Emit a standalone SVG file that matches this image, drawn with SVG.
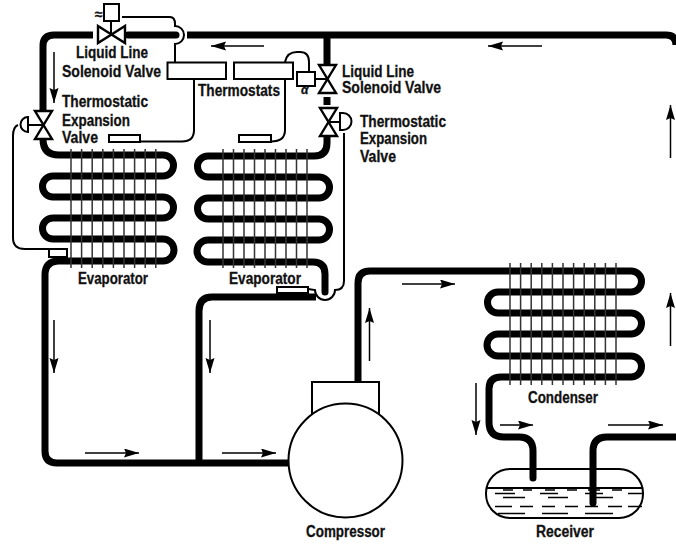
<svg xmlns="http://www.w3.org/2000/svg" width="676" height="544" viewBox="0 0 676 544">
<style>
.p{fill:none;stroke:#000;stroke-width:7}
.t{fill:none;stroke:#000;stroke-width:2}
.d{fill:none;stroke:#000;stroke-width:1.5}
.f{fill:none;stroke:#333;stroke-width:1.5}
.b{fill:#fff;stroke:#000;stroke-width:2}
.a{fill:none;stroke:#000;stroke-width:1.5;marker-end:url(#h)}
.v{fill:#fff;stroke:#000;stroke-width:2.4;stroke-linejoin:miter}
text{font-family:"Liberation Sans Narrow","Liberation Sans",Arial,sans-serif;font-weight:700;font-size:16px;fill:#111;stroke:#111;stroke-width:.3}
</style>
<defs>
<marker id="h" markerUnits="userSpaceOnUse" markerWidth="16" markerHeight="10" refX="15" refY="4.500" orient="auto"><path d="M0,0L15,4.500L0,9L2,4.500Z" fill="#000"/></marker>
</defs>
<rect width="676" height="544" fill="#fff"/>
<g id="receiver">
<rect class="t" x="486" y="469" width="157" height="49" rx="24" ry="24"/>
<path class="t" d="M487,488H642"/>
<path class="d" d="M503,490H513M523,490H532M545,490H555M567,490H577M588,490H600M612,490H622M495,493.500H515M540,493.500H558M585,493.500H603M628,493.500H642M503,497.500H525M548,497.500H568M592,497.500H613M495,506.500H512M520,506.500H533M542,506.500H555M565,506.500H578M585,506.500H598M608,506.500H622M628,506.500H642M498,513.500H525M542,513.500H568M585,513.500H613"/>
<text x="536" y="537" textLength="58" lengthAdjust="spacingAndGlyphs">Receiver</text>
</g>
<g id="connectors">
<path class="p" d="M93,35H54Q43,35 43,46V111"/>
<path class="p" d="M128,35H176" stroke-linecap="round"/>
<path class="p" d="M187,35H666Q676,35 676,45"/>
<path class="p" d="M327,35V65M327,97V105"/>
<path class="p" d="M43,139Q43,155 59,155H163A10.500,10.500 0 0 1 163,176H53A10.500,10.500 0 0 0 53,197H163A10.500,10.500 0 0 1 163,218H53A10.500,10.500 0 0 0 53,239H163A10.500,10.500 0 0 1 163,261H59Q45,261 45,275V451Q45,463 57,463H290"/>
<path class="p" d="M327,136V143Q327,156 314,156H208A10.500,10.500 0 0 0 208,177H319A10.500,10.500 0 0 1 319,198H208A10.500,10.500 0 0 0 208,219H319A10.500,10.500 0 0 1 319,240H208A10.500,10.500 0 0 0 208,262H313Q325,262 325,274V292" stroke-linecap="round"/>
<path class="p" d="M316,297H212Q199,297 199,311V463"/>
<path class="p" d="M358,382V283Q358,271 370,271H631A10.500,10.500 0 0 1 631,292H498A10.500,10.500 0 0 0 498,313H631A10.500,10.500 0 0 1 631,334H498A10.500,10.500 0 0 0 498,356H631A10.500,10.500 0 0 1 631,377H501Q489,377 489,389V422Q489,437 504,437H519Q533,437 533,451V478" stroke-linecap="round"/>
<path class="p" d="M676,437H607Q593,437 593,451V503" stroke-linecap="round"/>
<path class="t" d="M122,17H170Q175,17 175,24V26A9,9 0 0 1 175,44V62"/>
<path class="t" d="M194,79V130Q194,141.500 182,141.500H140"/>
<path class="t" d="M285,62Q287,52 297,52H300Q309,52 309,62V72"/>
<path class="t" d="M285,79V130Q285,141.500 271,141.500"/>
<path class="t" d="M18,125Q13,127 13,136V238Q13,249 25,249H67V257"/>
<path class="t" d="M344,133V281Q344,290 335,290A10,10 0 0 1 315,290L308,289"/>
<path class="t" d="M315,79H327M111,35V21M28,125H43M340,122H327"/>
</g>
<g id="arrows">
<path class="a" d="M542,46H488"/>
<path class="a" d="M264,46H211"/>
<path class="a" d="M54,52V103"/>
<path class="a" d="M670.500,158V105"/>
<path class="a" d="M670.500,346V293"/>
<path class="a" d="M476,383V435"/>
<path class="a" d="M500,425H533"/>
<path class="a" d="M608,425H663"/>
<path class="a" d="M402,284H455"/>
<path class="a" d="M369.500,361V308"/>
<path class="a" d="M54,320V373"/>
<path class="a" d="M210,320V373"/>
<path class="a" d="M85,453H139"/>
<path class="a" d="M222,453H276"/>
</g>
<g id="evaporator-left">
<path class="f" d="M71,149V268M81.600,149V268M92.200,149V268M102.800,149V268M113.400,149V268M124,149V268M134.600,149V268M145.200,149V268M155.800,149V268"/>
<text x="78" y="284" textLength="70" lengthAdjust="spacingAndGlyphs">Evaporator</text>
</g>
<g id="evaporator-right">
<path class="f" d="M223,149V268M233.500,149V268M244,149V268M254.500,149V268M265,149V268M275.500,149V268M286,149V268M296.500,149V268M307,149V268"/>
<text x="229" y="284" textLength="72" lengthAdjust="spacingAndGlyphs">Evaporator</text>
</g>
<g id="condenser">
<path class="f" d="M510,263V385M520.600,263V385M531.200,263V385M541.800,263V385M552.400,263V385M563,263V385M573.600,263V385M584.200,263V385M594.800,263V385M605.400,263V385M616,263V385"/>
<text x="528" y="403" textLength="70" lengthAdjust="spacingAndGlyphs">Condenser</text>
</g>
<g id="compressor">
<rect class="b" x="312" y="382" width="67" height="40"/>
<circle class="b" cx="345.500" cy="460.500" r="57"/>
<text x="306" y="537" textLength="79" lengthAdjust="spacingAndGlyphs">Compressor</text>
</g>
<g id="solenoid-top">
<rect class="b" x="104" y="4" width="15" height="17"/>
<path class="v" d="M98,26L125,43V26L98,43Z"/>
<text x="95" y="19" style="font-size:14px">≈</text>
<text x="76" y="58" textLength="72" lengthAdjust="spacingAndGlyphs">Liquid Line</text>
<text x="62" y="77" textLength="99" lengthAdjust="spacingAndGlyphs">Solenoid Valve</text>
</g>
<g id="expansion-left">
<path class="v" d="M35,111H52L35,139H52Z"/>
<path class="b" d="M28,117A7.500,7.500 0 0 0 28,132Z"/>
<text x="62" y="107" textLength="86" lengthAdjust="spacingAndGlyphs">Thermostatic</text>
<text x="62" y="126" textLength="68" lengthAdjust="spacingAndGlyphs">Expansion</text>
<text x="62" y="143" textLength="36" lengthAdjust="spacingAndGlyphs">Valve</text>
</g>
<g id="solenoid-right">
<rect class="b" x="297" y="72" width="18" height="14"/>
<path class="v" d="M319,65H336L319,93H336Z"/>
<text x="301" y="94" style="font-size:12px;font-style:italic">α</text>
<text x="342" y="77" textLength="72" lengthAdjust="spacingAndGlyphs">Liquid Line</text>
<text x="342" y="93" textLength="99" lengthAdjust="spacingAndGlyphs">Solenoid Valve</text>
</g>
<g id="expansion-right">
<path class="v" d="M320,108H337L320,136H337Z"/>
<path class="b" d="M340,113H343A8.500,8.500 0 0 1 343,130H340Z"/>
<text x="360" y="127" textLength="86" lengthAdjust="spacingAndGlyphs">Thermostatic</text>
<text x="360" y="144" textLength="67" lengthAdjust="spacingAndGlyphs">Expansion</text>
<text x="360" y="162" textLength="36" lengthAdjust="spacingAndGlyphs">Valve</text>
</g>
<g id="thermostats">
<rect class="b" x="167.500" y="62.500" width="58.500" height="16.500"/>
<rect class="b" x="234" y="62.500" width="59" height="16.500"/>
<rect class="b" x="109" y="135" width="31" height="7"/>
<rect class="b" x="239" y="135" width="32" height="7"/>
<rect class="b" x="49" y="249" width="18" height="8"/>
<rect class="b" x="277" y="287" width="31" height="6"/>
<text x="198" y="96" textLength="82" lengthAdjust="spacingAndGlyphs">Thermostats</text>
</g>
</svg>
